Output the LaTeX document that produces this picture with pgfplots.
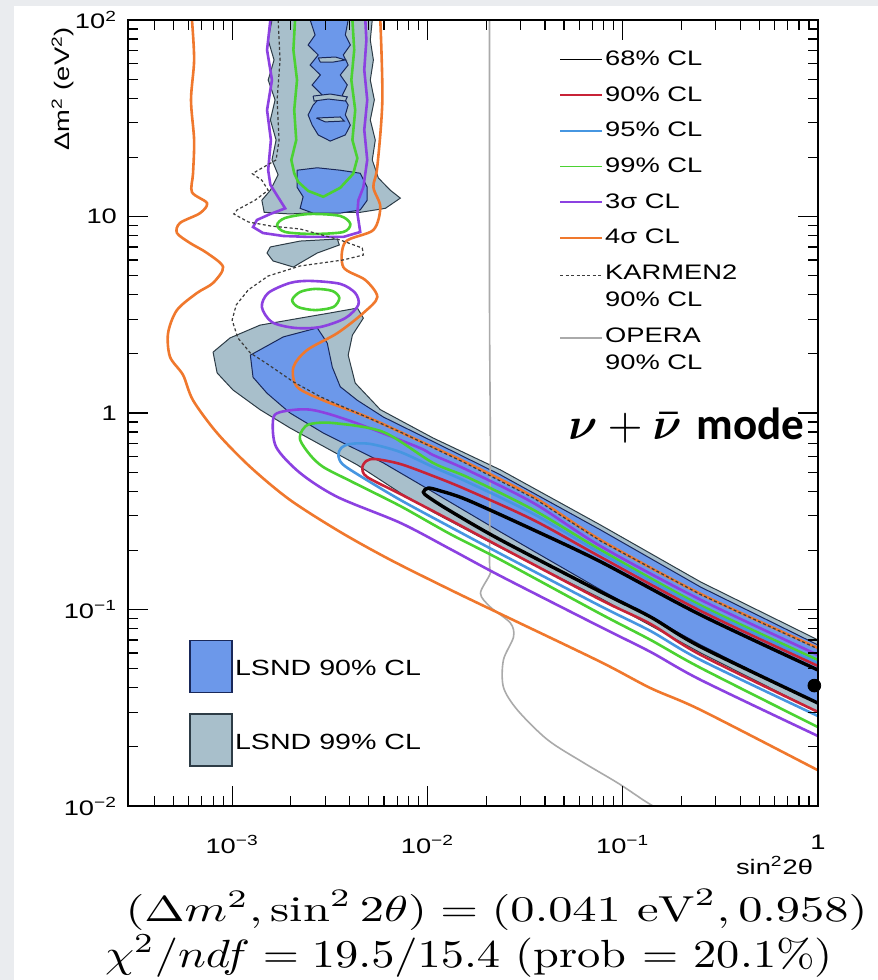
\documentclass[border=0pt]{standalone}
\usepackage{fontspec}
\usepackage{amsmath}
\usepackage{graphicx}
\usepackage{pgfplots}
\pgfplotsset{compat=1.18}
\newfontfamily\rootfont[FakeStretch=1.3]{Liberation Sans}
\newfontfamily\carlito{Carlito}

\definecolor{slide}{RGB}{234,236,239}
\definecolor{lsndA}{RGB}{108,152,234}
\definecolor{lsndAedge}{RGB}{25,40,90}
\definecolor{lsndB}{RGB}{168,191,203}
\definecolor{lsndBedge}{RGB}{45,60,70}
\definecolor{clA}{RGB}{200,35,55}
\definecolor{clB}{RGB}{70,150,225}
\definecolor{clC}{RGB}{75,210,50}
\definecolor{clD}{RGB}{140,65,225}
\definecolor{clE}{RGB}{240,120,45}
\definecolor{karmen}{RGB}{60,60,60}
\definecolor{opera}{RGB}{170,170,170}

% two-line legend text with the height of its lines only
\newcommand{\twoline}[2]{\raisebox{0pt}[21pt][2.2pt]{\begin{tabular}[b]{@{}l@{}}#1\\#2\end{tabular}}}

\begin{document}
\begin{tikzpicture}
% slide background and white panel
\fill[slide] (-64pt,-87pt) rectangle (375pt,403pt);
\fill[white] (-57pt,-87pt) rectangle (375pt,400pt);

\begin{axis}[
  at={(0pt,0pt)}, anchor=south west,
  scale only axis, width=345pt, height=393pt,
  xmode=log, ymode=log,
  xmin=2.93e-4, xmax=1, ymin=0.01, ymax=100,
  axis on top,
  axis line style={line width=1.3pt},
  tick align=inside, tick pos=both, ticklabel pos=left,
  major tick length=10pt, minor tick length=5pt,
  every tick/.style={black, line width=0.6pt},
  xtick={1e-3,1e-2,1e-1,1},
  xticklabels={10\textsuperscript{−3},10\textsuperscript{−2},10\textsuperscript{−1},1},
  ytick={1e-2,1e-1,1,10,100},
  yticklabels={10\textsuperscript{−2},10\textsuperscript{−1},1,10,10\textsuperscript{2}},
  minor xtick={4e-4,5e-4,6e-4,7e-4,8e-4,9e-4,2e-3,3e-3,4e-3,5e-3,6e-3,7e-3,8e-3,9e-3,0.02,0.03,0.04,0.05,0.06,0.07,0.08,0.09,0.2,0.3,0.4,0.5,0.6,0.7,0.8,0.9},
  minor ytick={0.02,0.03,0.04,0.05,0.06,0.07,0.08,0.09,0.2,0.3,0.4,0.5,0.6,0.7,0.8,0.9,2,3,4,5,6,7,8,9,20,30,40,50,60,70,80,90},
  tick label style={font=\rootfont\fontsize{10.5}{12}\selectfont},
  xticklabel style={yshift=-11pt},
  yticklabel style={xshift=-2pt},
  legend image code/.code={\draw[#1] (0pt,0pt) -- (21pt,0pt);},
  legend cell align=left,
  legend style={draw=none, fill=none, at={(0.616,0.969)}, anchor=north west,
    font=\rootfont\fontsize{10.5}{13.5}\selectfont, row sep=7pt,
    nodes={inner sep=1pt}},
]
% legend entries
\addlegendimage{black, line width=0.8pt}\addlegendentry{68\% CL}
\addlegendimage{clA, line width=0.8pt}\addlegendentry{90\% CL}
\addlegendimage{clB, line width=0.8pt}\addlegendentry{95\% CL}
\addlegendimage{clC, line width=0.8pt}\addlegendentry{99\% CL}
\addlegendimage{clD, line width=0.9pt}\addlegendentry{3σ CL}
\addlegendimage{clE, line width=0.8pt}\addlegendentry{4σ CL}
\addlegendimage{legend image code/.code={\path (0pt,0pt); \draw[karmen, line width=0.6pt, dash pattern=on 1.5pt off 1.2pt] (0pt,6pt) -- (21pt,6pt);}}
\addlegendentry{\twoline{KARMEN2}{90\% CL}}
\addlegendimage{legend image code/.code={\path (0pt,0pt); \draw[opera, line width=0.8pt] (0pt,6pt) -- (21pt,6pt);}}
\addlegendentry{\twoline{OPERA}{90\% CL}}

% LSND 99% CL allowed region
\addplot[fill=lsndB, draw=lsndBedge, line width=0.5pt, forget plot] coordinates {
(1.60e-3,100) (1.53e-3,79.1) (1.64e-3,62.6) (1.53e-3,49.5) (1.66e-3,39.2) (1.57e-3,31.0) (1.68e-3,24.5) (1.60e-3,19.4) (1.72e-3,16.3) (1.57e-3,13.6) (1.42e-3,12.1) (1.46e-3,10.5) (1.98e-3,10.3) (2.83e-3,10.5) (4.53e-3,10.5) (6.09e-3,11.0) (7.27e-3,12.4) (6.46e-3,13.6) (5.61e-3,15.7) (5.22e-3,19.4) (5.41e-3,24.5) (5.10e-3,31.0) (5.35e-3,39.2) (5.10e-3,49.5) (5.29e-3,62.6) (5.10e-3,79.1) (5.22e-3,100) (1.60e-3,100)};
\addplot[fill=lsndB, draw=lsndBedge, line width=0.5pt, forget plot] coordinates {
(1.57e-3,7.00) (2.23e-3,7.50) (3.46e-3,7.68) (3.54e-3,7.16) (2.73e-3,6.52) (2.23e-3,5.80) (2.06e-3,5.53) (1.62e-3,5.94) (1.51e-3,6.52) (1.57e-3,7.00)};
\addplot[fill=lsndB, draw=lsndBedge, line width=0.5pt, forget plot] coordinates {
(7.99e-4,2.04) (9.76e-4,2.41) (1.39e-3,2.80) (2.23e-3,3.04) (3.18e-3,3.23) (4.38e-3,3.42) (4.70e-3,3.04) (4.13e-3,2.49) (3.93e-3,1.97) (4.27e-3,1.42) (5.74e-3,1.04) (1.07e-2,0.746) (2.37e-2,0.513) (7.71e-2,0.269) (0.251,0.138) (1,0.0700) (1,0.0301) (0.251,0.0601) (7.71e-2,0.114) (2.37e-2,0.206) (1.07e-2,0.313) (7.27e-3,0.392) (4.38e-3,0.544) (3.18e-3,0.648) (1.98e-3,0.839) (1.39e-3,1.04) (1.01e-3,1.31) (8.38e-4,1.60) (7.99e-4,2.04)};

% LSND 90% CL allowed region
\addplot[fill=lsndA, draw=lsndAedge, line width=0.5pt, forget plot] coordinates {
(2.51e-3,100) (2.66e-3,83.9) (2.45e-3,74.6) (2.76e-3,66.4) (2.51e-3,59.0) (2.83e-3,52.5) (2.57e-3,46.7) (2.89e-3,41.5) (2.60e-3,36.9) (2.45e-3,32.9) (2.57e-3,29.2) (2.76e-3,26.0) (3.18e-3,24.2) (3.80e-3,26.0) (4.03e-3,29.2) (3.80e-3,32.9) (3.93e-3,36.9) (3.67e-3,41.5) (3.89e-3,46.7) (3.58e-3,52.5) (3.93e-3,59.0) (3.71e-3,66.4) (4.03e-3,74.6) (3.80e-3,83.9) (3.93e-3,100) (2.51e-3,100)};
\addplot[fill=lsndA, draw=lsndAedge, line width=0.5pt, forget plot] coordinates {
(2.15e-3,17.2) (2.73e-3,17.7) (3.58e-3,17.2) (4.53e-3,16.6) (4.92e-3,14.1) (4.92e-3,12.1) (4.53e-3,10.8) (3.58e-3,10.4) (2.60e-3,10.4) (2.23e-3,11.0) (2.31e-3,12.6) (2.15e-3,14.1) (2.15e-3,17.2)};
\addplot[fill=lsndA, draw=lsndAedge, line width=0.5pt, forget plot] coordinates {
(1.24e-3,1.97) (1.83e-3,2.44) (2.73e-3,2.71) (3.07e-3,2.27) (3.26e-3,1.71) (3.58e-3,1.36) (4.38e-3,1.16) (5.95e-3,0.954) (2.37e-2,0.484) (7.71e-2,0.254) (0.251,0.130) (1,0.0660) (1,0.0330) (0.251,0.0660) (7.71e-2,0.126) (2.37e-2,0.248) (1.07e-2,0.396) (5.95e-3,0.557) (2.93e-3,0.791) (1.98e-3,1.00) (1.51e-3,1.26) (1.28e-3,1.52) (1.24e-3,1.97)};
% gaps inside the high-mass 90% band
\addplot[fill=lsndB, draw=lsndAedge, line width=0.5pt, forget plot] coordinates {
(2.76e-3,64.1) (3.38e-3,64.8) (3.80e-3,62.6) (3.30e-3,61.1) (2.83e-3,61.1) (2.76e-3,64.1)};
\addplot[fill=lsndB, draw=lsndAedge, line width=0.5pt, forget plot] coordinates {
(2.60e-3,41.0) (3.18e-3,42.0) (3.89e-3,40.6) (3.80e-3,38.7) (3.11e-3,39.6) (2.63e-3,38.7) (2.60e-3,41.0)};
\addplot[fill=lsndB, draw=lsndAedge, line width=0.5pt, forget plot] coordinates {
(2.70e-3,31.7) (3.58e-3,32.1) (3.75e-3,30.6) (3.00e-3,30.3) (2.70e-3,31.7)};

% OPERA 90% CL
\addplot[opera, line width=0.8pt, smooth, forget plot] coordinates {
(2.08e-2,100) (2.08e-2,3.76) (2.10e-2,0.648) (2.08e-2,0.179) (2.10e-2,0.153) (1.87e-2,0.121) (2.10e-2,0.103) (2.66e-2,0.0854) (2.76e-2,0.0725) (2.45e-2,0.0553) (2.45e-2,0.0403) (2.89e-2,0.0308) (4.13e-2,0.0217) (6.31e-2,0.0166) (9.43e-2,0.0131) (0.128,0.0107) (0.143,0.0100)};

% 4 sigma
\addplot[clE, line width=1.3pt, smooth, forget plot] coordinates {
(6.23e-4,100) (6.39e-4,62.6) (6.16e-4,39.2) (6.39e-4,24.5) (6.31e-4,16.6) (6.23e-4,13.3) (7.44e-4,11.7) (6.85e-4,10.4) (5.41e-4,9.27) (5.22e-4,8.24) (6.09e-4,7.33) (7.44e-4,6.52) (8.99e-4,5.53) (7.99e-4,4.59) (6.61e-4,4.08) (5.22e-4,3.34) (4.70e-4,2.55) (4.81e-4,1.93) (5.61e-4,1.56) (6.31e-4,1.16) (8.38e-4,0.791) (1.24e-3,0.531) (1.98e-3,0.361) (3.58e-3,0.248) (6.46e-3,0.179) (1.31e-2,0.126) (2.37e-2,0.0949) (7.71e-2,0.0541) (0.139,0.0398) (0.251,0.0308) (1,0.0152)};
\addplot[clE, line width=1.3pt, smooth, forget plot] coordinates {
(5.74e-3,100) (5.88e-3,39.2) (5.54e-3,17.9) (5.29e-3,14.1) (5.74e-3,11.2) (5.29e-3,8.54) (3.80e-3,7.42) (3.71e-3,5.53) (4.81e-3,4.75) (5.54e-3,3.89) (4.70e-3,3.23) (3.46e-3,2.55) (2.42e-3,2.09) (2.06e-3,1.71) (2.15e-3,1.36) (2.93e-3,1.16) (4.92e-3,0.954) (8.89e-3,0.729) (1.60e-2,0.557) (3.50e-2,0.374) (7.71e-2,0.226) (0.251,0.120) (1,0.0637)};

% 3 sigma
\addplot[clD, line width=1.3pt, forget plot] coordinates {
(1.57e-3,100) (1.51e-3,70.4) (1.60e-3,49.5) (1.51e-3,34.8) (1.58e-3,24.5) (1.53e-3,17.2) (1.57e-3,14.5) (1.76e-3,12.1) (1.87e-3,11.0) (1.57e-3,10.3) (1.34e-3,9.60) (1.28e-3,8.84) (1.44e-3,8.24) (1.83e-3,7.96) (2.51e-3,7.87) (3.71e-3,7.87) (4.53e-3,8.34) (4.38e-3,10.4) (4.43e-3,12.1) (4.70e-3,14.1) (4.92e-3,19.4) (4.75e-3,27.6) (4.92e-3,39.2) (4.75e-3,55.7) (4.87e-3,79.1) (4.81e-3,100)};
\addplot[clD, line width=1.3pt, smooth cycle, forget plot] coordinates {
(1.42e-3,3.46) (1.53e-3,4.08) (1.98e-3,4.59) (2.51e-3,4.70) (3.58e-3,4.54) (4.27e-3,4.08) (4.43e-3,3.55) (3.80e-3,3.04) (2.83e-3,2.74) (2.10e-3,2.71) (1.60e-3,2.90)};
\addplot[clD, line width=1.3pt, smooth, forget plot] coordinates {
(1,0.0587) (0.251,0.112) (7.71e-2,0.210) (3.50e-2,0.348) (1.60e-2,0.513) (1.07e-2,0.611) (8.89e-3,0.672) (4.03e-3,0.911) (2.51e-3,1.04) (1.76e-3,1.01) (1.62e-3,0.921) (1.68e-3,0.672) (2.23e-3,0.495) (3.46e-3,0.374) (7.27e-3,0.276) (1.31e-2,0.203) (2.37e-2,0.148) (7.71e-2,0.0815) (0.139,0.0608) (0.251,0.0438) (1,0.0227)};

% 99%
\addplot[clC, line width=1.3pt, forget plot] coordinates {
(2.10e-3,100) (2.06e-3,70.4) (2.15e-3,49.5) (2.08e-3,34.8) (2.13e-3,24.5) (2.01e-3,19.4) (2.08e-3,16.6) (2.18e-3,15.0) (2.45e-3,13.5) (2.93e-3,12.6) (3.58e-3,14.0) (4.17e-3,16.5) (4.38e-3,19.8) (4.13e-3,24.5) (4.27e-3,34.8) (4.08e-3,49.5) (4.22e-3,70.4) (4.13e-3,100)};
\addplot[clC, line width=1.3pt, smooth cycle, forget plot] coordinates {
(1.70e-3,9.05) (1.87e-3,9.83) (2.51e-3,10.3) (3.58e-3,10.06) (4.03e-3,9.16) (3.71e-3,8.34) (2.60e-3,8.15) (1.87e-3,8.34)};
\addplot[clC, line width=1.3pt, smooth cycle, forget plot] coordinates {
(2.03e-3,3.76) (2.23e-3,4.13) (2.66e-3,4.28) (3.26e-3,4.18) (3.54e-3,3.85) (3.30e-3,3.46) (2.66e-3,3.34) (2.18e-3,3.46)};
\addplot[clC, line width=1.3pt, smooth, forget plot] coordinates {
(1,0.0553) (0.251,0.105) (7.71e-2,0.201) (3.50e-2,0.321) (1.60e-2,0.472) (1.07e-2,0.557) (5.95e-3,0.800) (3.30e-3,0.889) (2.51e-3,0.879) (2.29e-3,0.819) (2.23e-3,0.729) (2.51e-3,0.611) (2.93e-3,0.531) (4.03e-3,0.451) (7.27e-3,0.336) (1.31e-2,0.242) (2.37e-2,0.179) (7.71e-2,0.0949) (0.139,0.0700) (0.251,0.0504) (1,0.0252)};

% 95%
\addplot[clB, line width=1.3pt, smooth, forget plot] coordinates {
(1,0.0534) (0.251,0.102) (7.71e-2,0.194) (3.50e-2,0.306) (1.60e-2,0.446) (1.07e-2,0.531) (7.27e-3,0.633) (5.10e-3,0.696) (4.03e-3,0.696) (3.62e-3,0.664) (3.50e-3,0.611) (3.67e-3,0.550) (4.53e-3,0.478) (7.27e-3,0.361) (1.31e-2,0.263) (2.37e-2,0.192) (7.71e-2,0.104) (0.139,0.0777) (0.251,0.0553) (1,0.0287)};

% 90%
\addplot[clA, line width=1.3pt, smooth, forget plot] coordinates {
(1,0.0516) (0.251,0.0983) (7.71e-2,0.185) (3.50e-2,0.285) (1.60e-2,0.406) (1.07e-2,0.478) (7.27e-3,0.550) (5.41e-3,0.583) (4.87e-3,0.570) (4.64e-3,0.525) (4.92e-3,0.472) (7.27e-3,0.387) (1.31e-2,0.285) (2.37e-2,0.208) (7.71e-2,0.112) (0.139,0.0844) (0.251,0.0587) (1,0.0301)};

% 68%
\addplot[black, line width=1.7pt, smooth, forget plot] coordinates {
(1,0.0492) (0.251,0.0938) (7.71e-2,0.175) (3.50e-2,0.254) (1.60e-2,0.361) (1.17e-2,0.401) (1.01e-2,0.415) (9.54e-3,0.396) (1.01e-2,0.374) (1.31e-2,0.317) (2.37e-2,0.226) (7.71e-2,0.123) (0.139,0.0916) (0.251,0.0645) (1,0.0334)};

% KARMEN2 90% CL
\addplot[karmen, line width=0.6pt, dash pattern=on 1.5pt off 1.2pt, forget plot] coordinates {
(1.72e-3,100) (1.76e-3,62.6) (1.70e-3,39.2) (1.74e-3,24.5) (1.68e-3,19.4) (1.36e-3,17.2) (1.27e-3,16.5) (1.42e-3,15.3) (1.53e-3,13.6) (1.31e-3,12.1) (1.06e-3,10.8) (1.02e-3,10.3) (1.21e-3,9.38) (1.57e-3,8.95) (2.23e-3,8.64) (3.58e-3,7.59) (4.64e-3,6.91) (4.70e-3,6.37) (3.71e-3,6.01) (2.23e-3,5.60) (1.53e-3,4.98) (1.21e-3,4.23) (1.05e-3,3.55) (1.00e-3,2.97) (1.07e-3,2.41) (1.24e-3,2.02) (1.51e-3,1.78) (2.06e-3,1.44) (2.83e-3,1.21) (7.27e-3,0.800) (1.60e-2,0.550) (3.50e-2,0.369) (7.71e-2,0.223) (0.251,0.119) (1,0.0630)};

% best fit
\addplot[only marks, mark=*, mark size=3.2pt, black, forget plot] coordinates {(0.958,0.041)};
\end{axis}

% legend of the LSND regions
\begin{axis}[
  at={(0pt,0pt)}, anchor=south west,
  scale only axis, width=345pt, height=393pt,
  hide axis, xmin=0, xmax=1, ymin=0, ymax=1,
  legend image code/.code={\draw[#1, line width=0.8pt] (0pt,-11.5pt) rectangle (21pt,14.5pt);},
  legend cell align=left,
  legend style={draw=none, fill=none, at={(0.0798,0.2174)}, anchor=north west,
    font=\rootfont\fontsize{11}{13}\selectfont, row sep=10pt,
    nodes={inner sep=1pt}},
]
\addlegendimage{fill=lsndA, draw=lsndAedge}\addlegendentry{LSND 90\% CL}
\addlegendimage{fill=lsndB, draw=lsndBedge}\addlegendentry{LSND 99\% CL}
\end{axis}

% axis titles
\node[rotate=90, anchor=east, font=\rootfont\fontsize{10.5}{12}\selectfont] at (-32.5pt,393pt) {Δm\textsuperscript{2} (eV\textsuperscript{2})};
\node[anchor=base east, font=\rootfont\fontsize{10.5}{12}\selectfont] at (346pt,-34pt) {sin\textsuperscript{2}2θ};

% mode label
\node[anchor=base west, inner sep=0pt] at (220pt,183pt) {\resizebox{118pt}{!}{$\boldsymbol{\nu}+\boldsymbol{\bar{\nu}}$ {\carlito\bfseries mode}}};

% fit summary
\node[anchor=base, inner sep=0pt] at (184.25pt,-57.5pt) {\resizebox{371pt}{16pt}{$(\Delta m^2, \sin^2 2\theta) = (0.041\ \mathrm{eV}^2, 0.958)$}};
\node[anchor=base, inner sep=0pt] at (170.5pt,-80.5pt) {\resizebox{364pt}{16pt}{$\chi^2/ndf = 19.5/15.4$ (prob = 20.1\%)}};
\end{tikzpicture}
\end{document}
